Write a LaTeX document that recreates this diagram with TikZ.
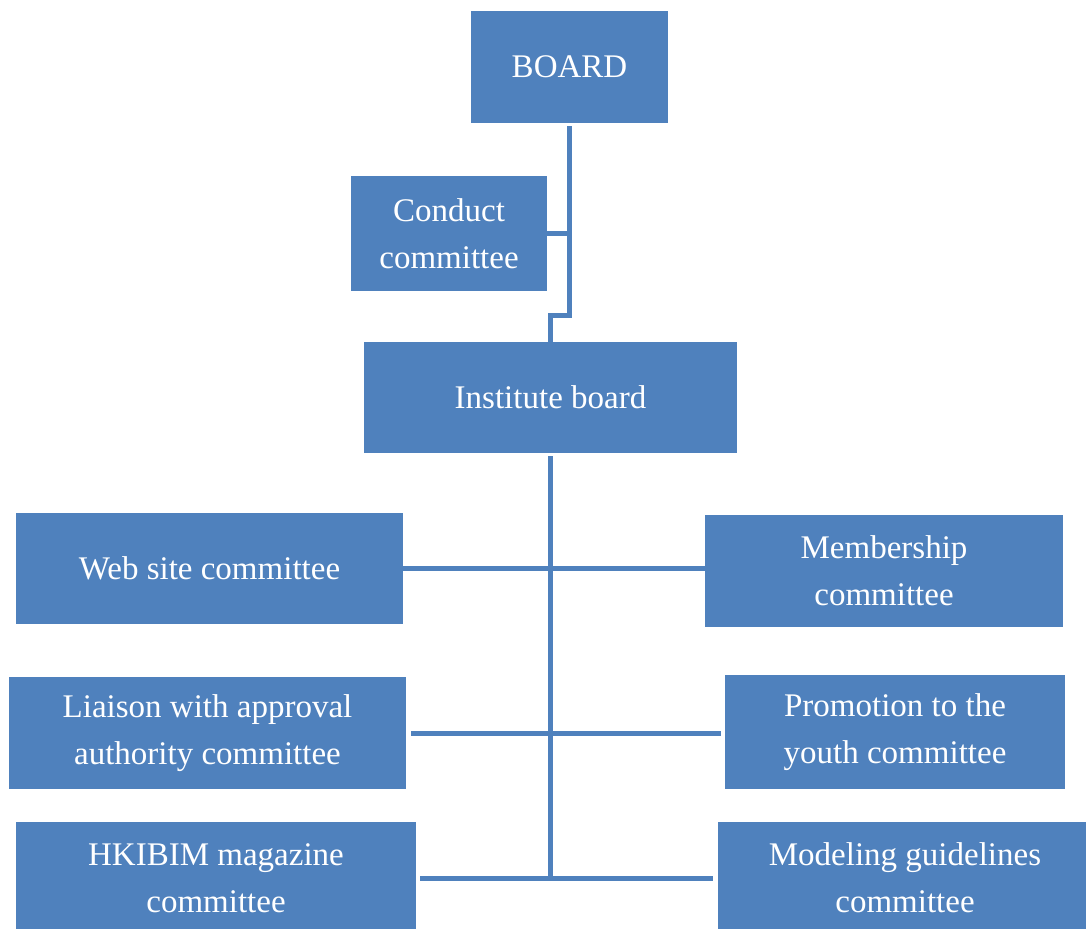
\documentclass[tikz,border=0pt]{standalone}
\usepackage{fontspec}
\setmainfont{Liberation Serif}
\usepackage{xcolor}
\usepackage{tikz}
\usetikzlibrary{positioning,calc}
\definecolor{orgblue}{HTML}{4F81BD}

\begin{document}
\begin{tikzpicture}[
  x=0.5pt, y=-0.5pt,
  unit/.style={rectangle, fill=orgblue, text=white, inner sep=0pt,
               align=center, font=\fontsize{16.5}{23.5}\selectfont},
  link/.style={draw=orgblue, line width=2.5pt},
]
\useasboundingbox (0,0) rectangle (1086,929);

\node[unit, minimum width=98.5pt, minimum height=56pt]  (board)   at (569.5,67)  {BOARD};
\node[unit, minimum width=98pt, minimum height=57.5pt]  (conduct) at (449,233.5) {Conduct\\ committee};
\node[unit, minimum width=186.5pt, minimum height=55.5pt] (inst)  at (550.5,397.5) {Institute board};

\node[unit, minimum width=193.5pt, minimum height=55.5pt] (web)    at (209.5,568.5) {Web site committee};
\node[unit, minimum width=179pt, minimum height=56pt]     (member) at (884,571)   {Membership\\ committee};
\node[unit, minimum width=198.5pt, minimum height=56pt]   (liaison) at (207.5,733) {Liaison with approval\\ authority committee};
\node[unit, minimum width=170pt, minimum height=57pt]     (promo)  at (895,732)   {Promotion to the\\ youth committee};
\node[unit, minimum width=200pt, minimum height=56pt]     (hkibim) at (216,878)   {HKIBIM magazine\\ committee};
\node[unit, minimum width=187.5pt, minimum height=56pt]   (model)  at (905,878)   {Modeling guidelines\\ committee};

% board to institute board
\draw[link] ($(board.south)+(0,3)$) -- (board.south |- 0,316) -| (inst.north);
\draw[link] (conduct.east) -- (conduct.east -| board.south);

% trunk and committees
\draw[link] ($(inst.south)+(0,3)$) -- (inst.south |- hkibim.east);
\draw[link] (web.east) -- (web.east -| member.west);
\draw[link, shorten <=2.5pt, shorten >=2pt] (liaison.east) -- (liaison.east -| promo.west);
\draw[link, shorten <=2pt, shorten >=2pt] (hkibim.east) -- (hkibim.east -| model.west);
\end{tikzpicture}
\end{document}
